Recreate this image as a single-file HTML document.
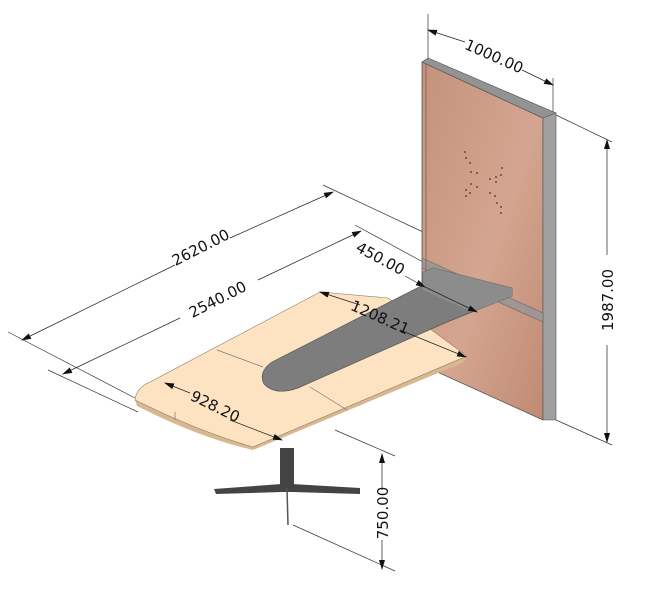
<!DOCTYPE html>
<html><head><meta charset="utf-8"><style>
html,body{margin:0;padding:0;background:#fff;}
svg{display:block;}
text{font-family:"DejaVu Sans","Liberation Sans",sans-serif;font-size:15px;fill:#111;}
</style></head><body>
<svg width="662" height="610" viewBox="0 0 662 610" xmlns="http://www.w3.org/2000/svg">
<defs>
<marker id="a" markerWidth="10" markerHeight="6" refX="9" refY="3" orient="auto" markerUnits="userSpaceOnUse"><path d="M0,0 L10,3 L0,6 Z" fill="#111"/></marker>
<linearGradient id="pg" x1="0" y1="0" x2="1" y2="1"><stop offset="0" stop-color="#c4927c"/><stop offset="0.55" stop-color="#d4a590"/><stop offset="1" stop-color="#c08a72"/></linearGradient>
</defs>
<g stroke="#333" stroke-width="0.7" fill="none">
<line x1="428" y1="14" x2="428" y2="60"/>
<line x1="553" y1="78" x2="553" y2="116"/>
<line x1="556" y1="115" x2="612" y2="142"/>
<line x1="556" y1="420" x2="612" y2="445"/>
<line x1="323" y1="185" x2="423" y2="232"/>
<line x1="355" y1="225" x2="423" y2="262"/>
<line x1="8" y1="332" x2="135" y2="398"/>
<line x1="48" y1="370" x2="138" y2="412"/>
<line x1="335" y1="430" x2="395" y2="456"/>
<line x1="293" y1="525" x2="395" y2="571"/>
</g>
<polygon points="422,62 543,118 543,420 422,365" fill="url(#pg)" stroke="#555" stroke-width="0.8"/>
<polygon points="422,62 428,58 556,113 543,118" fill="#939393" stroke="#555" stroke-width="0.6"/>
<polygon points="543,118 556,113 556,420 543,420" fill="#a0a0a0" stroke="#555" stroke-width="0.6"/>
<polygon points="422,258 543,313 543,322 422,268" fill="#9f9592" stroke="#666" stroke-width="0.6"/>
<line x1="426" y1="64" x2="426" y2="363" stroke="#8a6a5a" stroke-width="1"/>
<g fill="#6a4a3a">
<circle cx="465" cy="152" r="1"/><circle cx="466" cy="158" r="1"/><circle cx="470" cy="163" r="1"/><circle cx="477" cy="173" r="1"/><circle cx="471" cy="172" r="1"/><circle cx="471" cy="184" r="1"/><circle cx="477" cy="187" r="1"/><circle cx="466" cy="190" r="1"/><circle cx="466" cy="196" r="1"/><circle cx="470" cy="193" r="1"/>
<circle cx="490" cy="179" r="1"/><circle cx="496" cy="177" r="1"/><circle cx="502" cy="168" r="1"/><circle cx="501" cy="175" r="1"/><circle cx="496" cy="182" r="1"/><circle cx="490" cy="193" r="1"/><circle cx="495" cy="196" r="1"/><circle cx="497" cy="203" r="1"/><circle cx="501" cy="207" r="1"/><circle cx="501" cy="213" r="1"/>
</g>
<path d="M320,292 L388,298 L467,358 L462,363 L253,450 Q200,438 137,406 L135,400 Q136,388 150,382 Z" fill="#d9b78f"/>
<path d="M320,292 L388,298 L467,356 L253,447 Q200,432 135,400 Q136,388 150,382 Z" fill="#fde3c2" stroke="#8a7a66" stroke-width="0.6"/>
<line x1="217" y1="350" x2="263" y2="367" stroke="#777" stroke-width="0.7"/>
<line x1="310" y1="387" x2="347" y2="410" stroke="#777" stroke-width="0.7"/>
<line x1="175" y1="412" x2="175" y2="420" stroke="#777" stroke-width="0.7"/>
<path d="M433,268 L512,288 L512,296 L472,312 L447,322 L298,388 Q275,396 264,384 Q258,372 272,362 L423,285 L423,272 Z" fill="#7d7d7d" stroke="#555" stroke-width="0.7"/>
<polygon points="433,268 512,288 512,296 472,312 423,290 423,272" fill="#8c8c8c"/>
<rect x="280" y="448" width="14" height="42" fill="#444"/>
<polygon points="214,489 282,484 292,484 360,488 360,494 292,492 282,492 216,494" fill="#444"/>
<line x1="287" y1="488" x2="288" y2="525" stroke="#555" stroke-width="1.5"/>
<g stroke="#222" stroke-width="0.7" fill="none">
<line x1="175" y1="265" x2="22" y2="340" marker-end="url(#a)"/>
<line x1="230" y1="238" x2="333" y2="192" marker-end="url(#a)"/>
<line x1="180" y1="318" x2="63" y2="374" marker-end="url(#a)"/>
<line x1="258" y1="280" x2="361" y2="231" marker-end="url(#a)"/>
<line x1="405" y1="276" x2="425" y2="287" marker-end="url(#a)"/>
<line x1="425" y1="287" x2="477" y2="312" marker-end="url(#a)"/>
<line x1="360" y1="305" x2="320" y2="292" marker-end="url(#a)"/>
<line x1="400" y1="330" x2="466" y2="357" marker-end="url(#a)"/>
<line x1="190" y1="393" x2="165" y2="383" marker-end="url(#a)"/>
<line x1="230" y1="420" x2="282" y2="440" marker-end="url(#a)"/>
<line x1="465" y1="42" x2="428" y2="30" marker-end="url(#a)"/>
<line x1="522" y1="70" x2="553" y2="85" marker-end="url(#a)"/>
<line x1="607" y1="255" x2="607" y2="140" marker-end="url(#a)"/>
<line x1="607" y1="345" x2="607" y2="442" marker-end="url(#a)"/>
<line x1="382" y1="490" x2="382" y2="454" marker-end="url(#a)"/>
<line x1="382" y1="540" x2="382" y2="569" marker-end="url(#a)"/>
</g>
<text transform="translate(203,252) rotate(-27)" text-anchor="middle">2620.00</text>
<text transform="translate(220,304) rotate(-27)" text-anchor="middle">2540.00</text>
<text transform="translate(378,263) rotate(28)" text-anchor="middle">450.00</text>
<text transform="translate(378,322) rotate(24)" text-anchor="middle">1208.21</text>
<text transform="translate(213,411) rotate(26)" text-anchor="middle">928.20</text>
<text transform="translate(492,61) rotate(24)" text-anchor="middle">1000.00</text>
<text transform="translate(613,300) rotate(-90)" text-anchor="middle">1987.00</text>
<text transform="translate(388,513) rotate(-90)" text-anchor="middle">750.00</text>
</svg>
</body></html>
